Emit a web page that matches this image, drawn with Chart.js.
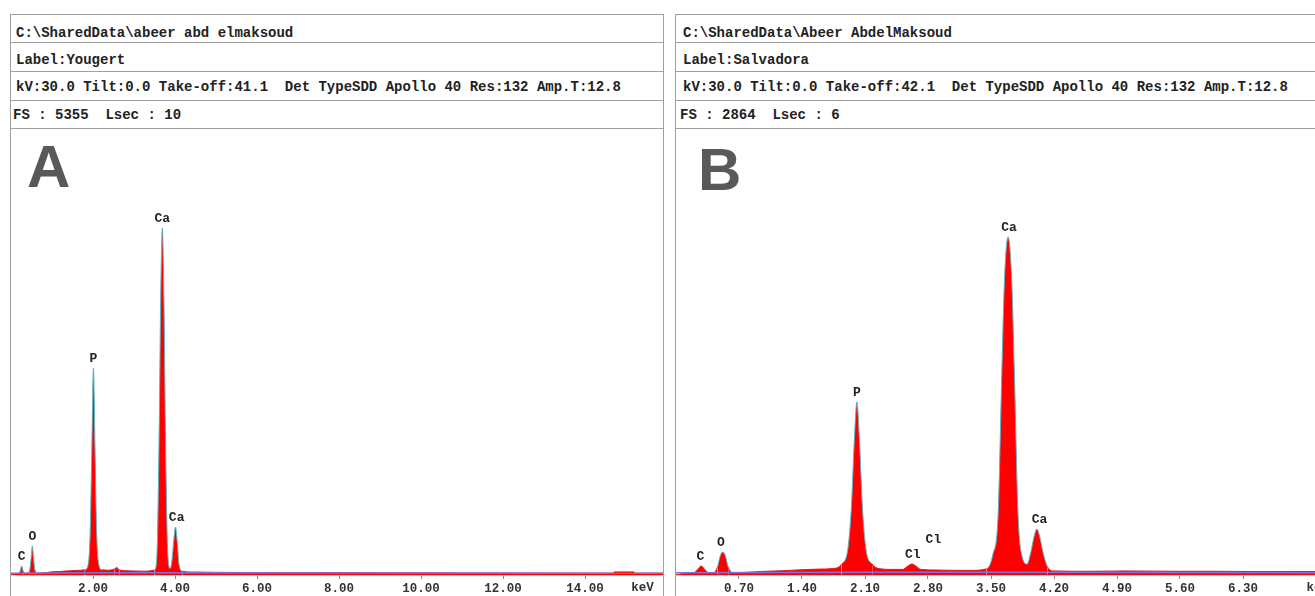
<!DOCTYPE html>
<html>
<head>
<meta charset="utf-8">
<script src="https://cdn.jsdelivr.net/npm/chart.js@4/dist/chart.umd.min.js"></script>
<style>
  body { margin: 0; width: 1315px; height: 596px; background: #fff; position: relative; overflow: hidden; }
  .line { position: absolute; background: #a0a0a0; }
  .txt { position: absolute; font: bold 14px "Liberation Mono", monospace; color: #222; white-space: pre; line-height: 16px; }
  .big { position: absolute; font: bold 60px "Liberation Sans", Arial, sans-serif; color: #595959; line-height: 60px; }
  canvas { position: absolute; }
</style>
</head>
<body>
<div class="big" style="left:27px; top:137px;">A</div>
<div class="big" style="left:698px; top:140px;">B</div>
<canvas id="chartA" width="652" height="467" style="left:11px; top:129px;"></canvas>
<canvas id="chartB" width="639" height="467" style="left:676px; top:129px;"></canvas>
<script>
// header rows
const headerA = [
  'C:\\SharedData\\abeer abd elmaksoud',
  'Label:Yougert',
  'kV:30.0 Tilt:0.0 Take-off:41.1  Det TypeSDD Apollo 40 Res:132 Amp.T:12.8',
  'FS : 5355  Lsec : 10'
];
const headerB = [
  'C:\\SharedData\\Abeer AbdelMaksoud',
  'Label:Salvadora',
  'kV:30.0 Tilt:0.0 Take-off:42.1  Det TypeSDD Apollo 40 Res:132 Amp.T:12.8',
  'FS : 2864  Lsec : 6'
];

// spectrum A (keV, counts)
const energyA = [0.00, 0.10, 0.18, 0.22, 0.26, 0.30, 0.34, 0.40, 0.45, 0.49, 0.52, 0.55, 0.59, 0.65, 0.80,
  1.00, 1.20, 1.40, 1.60, 1.80, 1.88, 1.93, 1.97, 2.01, 2.05, 2.09, 2.14, 2.22, 2.40, 2.53, 2.58, 2.64,
  2.80, 3.00, 3.30, 3.50, 3.56, 3.61, 3.65, 3.69, 3.73, 3.77, 3.82, 3.88, 3.92, 3.97, 4.01, 4.05, 4.10,
  4.18, 4.40, 5.00, 6.00, 7.00, 8.00, 9.00, 10.00, 11.00, 12.00, 13.00, 14.00, 15.00, 15.90];
const countsA = [0, 12, 20, 40, 108, 40, 20, 20, 45, 200, 348, 200, 45, 22, 25,
  38, 42, 50, 55, 62, 120, 500, 1500, 2485, 1500, 500, 130, 62, 58, 75, 95, 62,
  52, 48, 46, 60, 250, 1600, 3300, 4166, 3300, 1600, 300, 80, 150, 420, 576, 420, 120,
  45, 36, 32, 30, 30, 30, 28, 26, 24, 24, 22, 22, 22, 22];
const bgKeVA = [0, 2, 4, 8, 15.9];
const bgCountsA = [22, 26, 26, 24, 22];
const markKeVA = [14.7, 15.2];
const markCountsA = [32, 32];
const ticksA = [2, 4, 6, 8, 10, 12, 14];
const peakNamesA = ['C', 'O', 'P', 'Ca', 'Ca'];
const peakKeVA = [0.26, 0.52, 2.01, 3.69, 4.04];
const peakCountsA = [108, 348, 2485, 4166, 576];

// spectrum B (keV, counts)
const energyB = [0.00, 0.10, 0.20, 0.24, 0.28, 0.32, 0.36, 0.42, 0.46, 0.49, 0.52, 0.55, 0.58, 0.63, 0.80,
  1.00, 1.20, 1.40, 1.60, 1.75, 1.84, 1.91, 1.95, 1.98, 2.01, 2.04, 2.07, 2.11, 2.18, 2.25, 2.40,
  2.52, 2.57, 2.62, 2.67, 2.72, 2.90, 3.10, 3.30, 3.45, 3.52, 3.58, 3.62, 3.65, 3.69, 3.73, 3.76,
  3.80, 3.85, 3.90, 3.94, 3.98, 4.01, 4.04, 4.08, 4.13, 4.20, 4.60, 5.00, 5.60, 6.00, 6.50, 7.10];
const countsB = [0, 12, 15, 35, 58, 35, 15, 15, 50, 120, 148, 120, 50, 15, 18,
  24, 28, 34, 38, 42, 70, 170, 450, 850, 1111, 850, 450, 170, 70, 42, 36,
  36, 55, 71, 55, 36, 32, 30, 30, 40, 130, 400, 1300, 1900, 2170, 1900, 1300,
  400, 110, 70, 140, 250, 295, 250, 140, 50, 26, 24, 26, 24, 24, 22, 22];
const bgKeVB = [0, 2, 4, 7.1];
const bgCountsB = [14, 18, 17, 15];
const ticksB = [0.7, 1.4, 2.1, 2.8, 3.5, 4.2, 4.9, 5.6, 6.3];
const peakNamesB = ['C', 'O', 'P', 'Cl', 'Cl', 'Ca', 'Ca'];
const peakKeVB = [0.27, 0.50, 2.01, 2.63, 2.86, 3.70, 4.04];
const peakCountsB = [58, 148, 1111, 71, 170, 2170, 295];

function addHeader(lines, left, right, textX) {
  const rowBottoms = [42, 71, 100, 128];
  const addLine = (x, y, w, h) => {
    const d = document.createElement('div');
    d.className = 'line';
    Object.assign(d.style, { left: x + 'px', top: y + 'px', width: w + 'px', height: h + 'px' });
    document.body.appendChild(d);
  };
  addLine(left, 14, right - left, 1);
  addLine(left, 14, 1, 600);
  if (right < 1315) addLine(right, 14, 1, 600);
  rowBottoms.forEach(y => addLine(left, y, right - left, 1));
  const centers = [33, 60, 87, 115];
  lines.forEach((t, i) => {
    const d = document.createElement('div');
    d.className = 'txt';
    d.textContent = t;
    d.style.left = (i === 3 ? textX - 3 : textX) + 'px';
    d.style.top = (centers[i] - 8) + 'px';
    document.body.appendChild(d);
  });
}
addHeader(headerA, 10, 663, 16);
addHeader(headerB, 675, 1320, 683);

const peakLabels = {
  id: 'peakLabels',
  afterDatasetsDraw(chart, args, opts) {
    const { ctx, scales: { x, y } } = chart;
    ctx.save();
    ctx.font = 'bold 13px "Liberation Mono"';
    ctx.fillStyle = '#222';
    ctx.textAlign = 'center';
    ctx.textBaseline = 'middle';
    opts.names.forEach((n, i) => {
      ctx.fillText(n, x.getPixelForValue(opts.keV[i]), y.getPixelForValue(opts.counts[i]) - 9);
    });
    ctx.font = 'bold 12.5px "Liberation Mono"';
    ctx.fillStyle = '#333';
    ctx.fillText('keV', x.getPixelForValue(opts.unitKeV), x.top + 13);
    ctx.restore();
  }
};

function makeChart(id, energy, counts, bgKeV, bgCounts, extra, xMax, yMax, tickVals, labels) {
  const toPts = (xs, ys) => xs.map((v, i) => ({ x: v, y: ys[i] }));
  const datasets = [
    {
      data: toPts(energy, counts),
      order: 3,
      fill: 'origin',
      backgroundColor: '#ff0000',
      borderWidth: 1,
      pointRadius: 0,
      cubicInterpolationMode: 'monotone',
      segment: {
        borderColor: c => (c.p0.parsed.y > 90 || c.p1.parsed.y > 90) ? '#5fb3c0' : '#e01818'
      }
    },
    {
      data: toPts(bgKeV, bgCounts),
      order: 2,
      borderColor: '#7a74e8',
      borderWidth: 1.5,
      pointRadius: 0,
      fill: false
    }
  ];
  if (extra) datasets.push({
    data: toPts(extra[0], extra[1]),
    order: 1,
    borderColor: '#ff2020',
    borderWidth: 2,
    pointRadius: 0,
    fill: false
  });
  return new Chart(document.getElementById(id), {
    type: 'line',
    data: { datasets },
    options: {
      responsive: false,
      animation: false,
      devicePixelRatio: 1,
      layout: { padding: 0 },
      plugins: {
        legend: { display: false },
        tooltip: { enabled: false },
        peakLabels: labels
      },
      scales: {
        x: {
          type: 'linear',
          min: 0,
          max: xMax,
          afterBuildTicks: s => { s.ticks = tickVals.map(v => ({ value: v })); },
          afterFit: s => { s.height = 21; },
          grid: { drawOnChartArea: false, tickLength: 4, color: '#888' },
          border: { color: '#999', width: 1.5 },
          ticks: {
            padding: 2,
            color: '#333',
            font: { family: 'Liberation Mono', weight: 'bold', size: 12.5 },
            callback: v => Number(v).toFixed(2),
            maxRotation: 0,
            autoSkip: false
          }
        },
        y: { display: false, min: 0, max: yMax }
      }
    },
    plugins: [peakLabels]
  });
}

makeChart('chartA', energyA, countsA, bgKeVA, bgCountsA, [markKeVA, markCountsA], 15.9, 5355, ticksA,
  { names: peakNamesA, keV: peakKeVA, counts: peakCountsA, unitKeV: 15.4 });
makeChart('chartB', energyB, countsB, bgKeVB, bgCountsB, null, 7.1, 2864, ticksB,
  { names: peakNamesB, keV: peakKeVB, counts: peakCountsB, unitKeV: 7.13 });
</script>
</body>
</html>
